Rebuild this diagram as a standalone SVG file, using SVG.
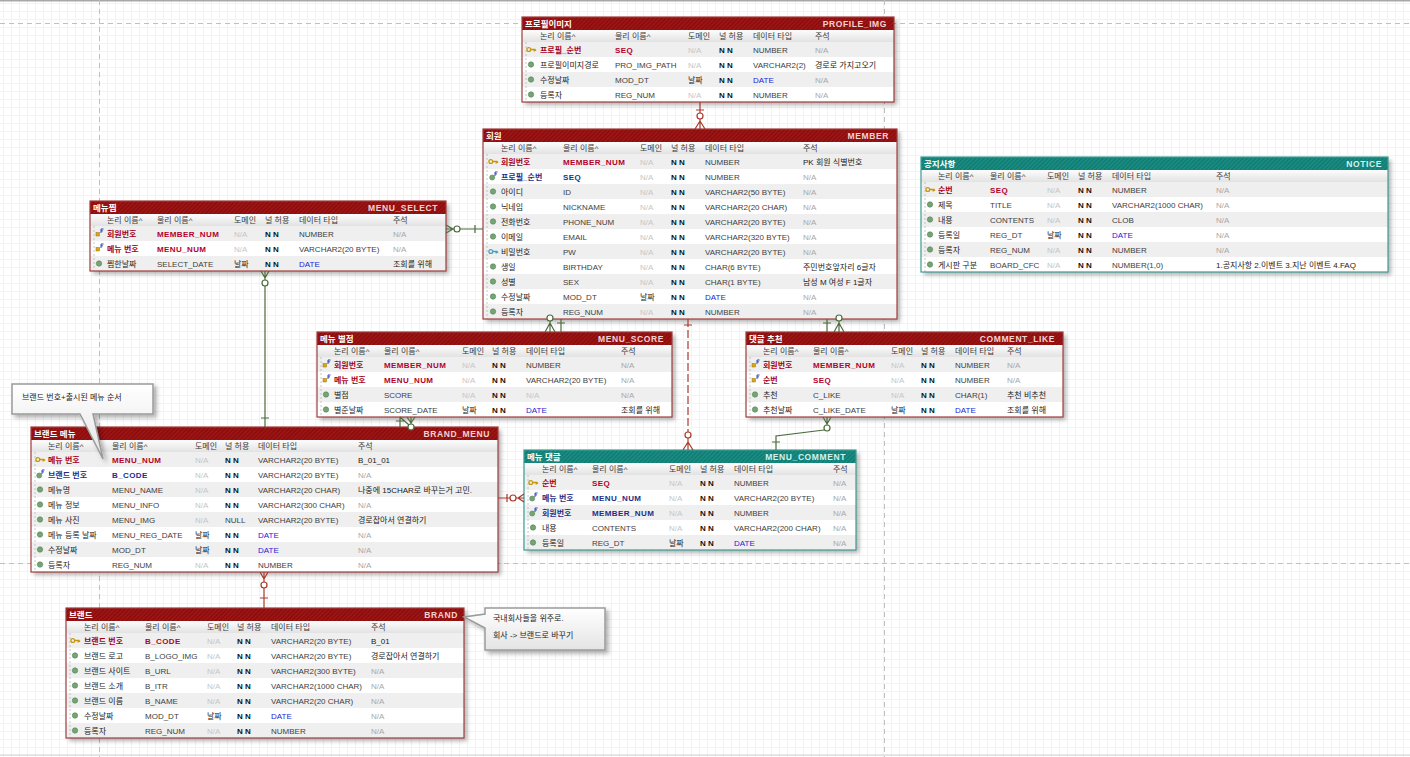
<svg xmlns="http://www.w3.org/2000/svg" width="1410" height="757" viewBox="0 0 1410 757">
<defs>
<style>
text{font-family:"Liberation Sans","Noto Sans CJK KR",sans-serif;font-size:8px;fill:#404040}
.tl{fill:#fff;font-weight:bold;font-size:8.5px}
.tr{fill:#f3d2d2;font-weight:bold;font-size:8.5px;letter-spacing:0.6px;text-anchor:end}
.tt{fill:#d4f1ed;font-weight:bold;font-size:8.5px;letter-spacing:0.6px;text-anchor:end}
.h{fill:#3a3a3a}
.pk{fill:#a3001b;font-weight:bold}
.pp{fill:#b3002b;font-weight:bold;letter-spacing:0.4px}
.fk{fill:#1f2d88;font-weight:bold}
.fp{fill:#1f2d88;font-weight:bold;letter-spacing:0.4px}
.na{fill:#c6c6c6}
.nc{fill:#a8a8a8}
.nn{fill:#111;font-weight:bold}
.d{fill:#2424d8}
.k{fill:#222}
.box{fill:#fff;filter:url(#sh)}
.bdr{fill:none;stroke:#a03c3c;stroke-width:1.2}
.bdt{fill:none;stroke:#3f9d94;stroke-width:1.2}
.alt{fill:#efefef}
.vl{stroke:#b8b8b8;stroke-width:0.8;stroke-dasharray:2 2}
.g{stroke:#4b6b3b;stroke-width:1.2;fill:none}
.r{stroke:#a83a2a;stroke-width:1.2;fill:none}
.rd{stroke:#a83a2a;stroke-width:1.2;fill:none;stroke-dasharray:8 3}
.gc{stroke:#4b6b3b;stroke-width:1.2;fill:#fff}
.rc{stroke:#a83a2a;stroke-width:1.2;fill:#fff}
.pb{stroke:#c0c0c0;stroke-width:1;stroke-dasharray:5 4;fill:none}
.note{fill:url(#ng);stroke:#9a9a9a;stroke-width:1.5;filter:url(#sh)}
.nt{fill:#222}
</style>
<filter id="sh" x="-5%" y="-5%" width="115%" height="125%"><feDropShadow dx="3" dy="3" stdDeviation="2" flood-color="#000" flood-opacity="0.3"/></filter>
<pattern id="grid" width="8" height="8" patternUnits="userSpaceOnUse" x="3" y="3"><path d="M0.5 0V8M0 0.5H8" stroke="#f3f3f3" stroke-width="1" fill="none"/></pattern>
<pattern id="hr" width="3" height="3" patternUnits="userSpaceOnUse" patternTransform="rotate(45)"><rect width="3" height="3" fill="#9e1616"/><rect width="1.2" height="3" fill="#870a0a"/></pattern>
<pattern id="ht" width="3" height="3" patternUnits="userSpaceOnUse" patternTransform="rotate(45)"><rect width="3" height="3" fill="#1a8d83"/><rect width="1.2" height="3" fill="#0f786f"/></pattern>
<linearGradient id="hg" x1="0" y1="0" x2="0" y2="1"><stop offset="0" stop-color="#fdfdfd"/><stop offset="1" stop-color="#e2e2e2"/></linearGradient>
<linearGradient id="ng" x1="0" y1="0" x2="0" y2="1"><stop offset="0" stop-color="#ffffff"/><stop offset="1" stop-color="#e4e4e4"/></linearGradient>
<g id="ipk"><circle cx="-2.2" cy="0" r="1.9" fill="none" stroke="#c8960c" stroke-width="1.3"/><path d="M-0.4 0H4.5M3.2 0V2M4.5 0V1.6" stroke="#c8960c" stroke-width="1.3" fill="none"/></g>
<g id="iak"><circle cx="-2.2" cy="0" r="1.9" fill="none" stroke="#4a9fc0" stroke-width="1.3"/><path d="M-0.4 0H4.5M3.2 0V2M4.5 0V1.6" stroke="#4a9fc0" stroke-width="1.3" fill="none"/></g>
<g id="iat"><circle r="2.7" fill="#74a574" stroke="#557f55" stroke-width="0.6"/></g>
<g id="ifk"><circle cx="-0.8" cy="1" r="2.5" fill="#74a574" stroke="#557f55" stroke-width="0.6"/><path d="M2 -4.5V-0.5M2 -4.5H4.6M2 -2.6H4" stroke="#2030b0" stroke-width="0.9" fill="none"/></g>
<g id="ipf"><rect x="-3" y="-1" width="3.5" height="3.5" fill="#d8a818" stroke="#9a7408" stroke-width="0.5"/><path d="M2 -4.5V-0.5M2 -4.5H4.6M2 -2.6H4" stroke="#2030b0" stroke-width="0.9" fill="none"/></g>
</defs>

<rect width="1410" height="757" fill="#fff"/>
<rect width="1410" height="757" fill="url(#grid)"/>
<g id="page-breaks">
<line x1="0" y1="0.75" x2="1410" y2="0.75" stroke="#a8a8a8" stroke-width="1.5"/>
<line class="pb" x1="0" y1="23.5" x2="1410" y2="23.5"/>
<line class="pb" x1="0" y1="563.5" x2="1410" y2="563.5"/>
<line class="pb" x1="99.5" y1="0" x2="99.5" y2="757"/>
<line class="pb" x1="884.5" y1="0" x2="884.5" y2="757"/>
<line x1="0" y1="755" x2="1410" y2="755" stroke="#d0d0d0" stroke-width="1"/>
</g>

<!-- PROFILE_IMG -->
<g id="profile_img" transform="translate(522,17)">
<rect class="box" width="372" height="85"/>
<rect width="372" height="13" fill="url(#hr)"/>
<rect y="13" width="372" height="12" fill="url(#hg)"/>
<rect class="alt" y="25" width="372" height="15"/><rect class="alt" y="55" width="372" height="15"/>
<line class="vl" x1="4" y1="25" x2="4" y2="85"/>
<rect class="bdr" width="372" height="85"/>
<text class="tl" x="3" y="10">프로필이미지</text><text class="tr" x="365" y="10">PROFILE_IMG</text>
<text class="h" x="18" y="22">논리 이름^</text><text class="h" x="93" y="22">물리 이름^</text><text class="h" x="166" y="22">도메인</text><text class="h" x="197" y="22">널 허용</text><text class="h" x="231" y="22">데이터 타입</text><text class="h" x="293" y="22">주석</text>
<use href="#ipk" x="9" y="32.5"/><text class="pk" x="18" y="36">프로필_순번</text><text class="pp" x="93" y="36">SEQ</text><text class="na" x="166" y="36">N/A</text><text class="nn" x="197" y="36">N N</text><text x="231" y="36">NUMBER</text><text class="nc" x="293" y="36">N/A</text>
<use href="#iat" x="9" y="47.5"/><text class="k" x="18" y="51">프로필이미지경로</text><text x="93" y="51">PRO_IMG_PATH</text><text class="na" x="166" y="51">N/A</text><text class="nn" x="197" y="51">N N</text><text x="231" y="51">VARCHAR2(2)</text><text class="k" x="293" y="51">경로로 가지고오기</text>
<use href="#iat" x="9" y="62.5"/><text class="k" x="18" y="66">수정날짜</text><text x="93" y="66">MOD_DT</text><text class="k" x="166" y="66">날짜</text><text class="nn" x="197" y="66">N N</text><text class="d" x="231" y="66">DATE</text><text class="nc" x="293" y="66">N/A</text>
<use href="#iat" x="9" y="77.5"/><text class="k" x="18" y="81">등록자</text><text x="93" y="81">REG_NUM</text><text class="na" x="166" y="81">N/A</text><text class="nn" x="197" y="81">N N</text><text x="231" y="81">NUMBER</text><text class="nc" x="293" y="81">N/A</text>
</g>

<!-- MEMBER -->
<g id="member" transform="translate(483,129)">
<rect class="box" width="414" height="190"/>
<rect width="414" height="13" fill="url(#hr)"/>
<rect y="13" width="414" height="12" fill="url(#hg)"/>
<rect class="alt" y="25" width="414" height="15"/><rect class="alt" y="55" width="414" height="15"/><rect class="alt" y="85" width="414" height="15"/><rect class="alt" y="115" width="414" height="15"/><rect class="alt" y="145" width="414" height="15"/><rect class="alt" y="175" width="414" height="15"/>
<line class="vl" x1="4" y1="25" x2="4" y2="190"/>
<rect class="bdr" width="414" height="190"/>
<text class="tl" x="3" y="10">회원</text><text class="tr" x="406" y="10">MEMBER</text>
<text class="h" x="18" y="22">논리 이름^</text><text class="h" x="80" y="22">물리 이름^</text><text class="h" x="157" y="22">도메인</text><text class="h" x="188" y="22">널 허용</text><text class="h" x="222" y="22">데이터 타입</text><text class="h" x="320" y="22">주석</text>
<use href="#ipk" x="10" y="32.5"/><text class="pk" x="18" y="36">회원번호</text><text class="pp" x="80" y="36">MEMBER_NUM</text><text class="na" x="157" y="36">N/A</text><text class="nn" x="188" y="36">N N</text><text x="222" y="36">NUMBER</text><text class="k" x="320" y="36">PK 회원 식별번호</text>
<use href="#ifk" x="10" y="47.5"/><text class="fk" x="18" y="51">프로필_순번</text><text class="fp" x="80" y="51">SEQ</text><text class="na" x="157" y="51">N/A</text><text class="nn" x="188" y="51">N N</text><text x="222" y="51">NUMBER</text><text class="nc" x="320" y="51">N/A</text>
<use href="#iat" x="10" y="62.5"/><text class="k" x="18" y="66">아이디</text><text x="80" y="66">ID</text><text class="na" x="157" y="66">N/A</text><text class="nn" x="188" y="66">N N</text><text x="222" y="66">VARCHAR2(50 BYTE)</text><text class="nc" x="320" y="66">N/A</text>
<use href="#iat" x="10" y="77.5"/><text class="k" x="18" y="81">닉네임</text><text x="80" y="81">NICKNAME</text><text class="na" x="157" y="81">N/A</text><text class="nn" x="188" y="81">N N</text><text x="222" y="81">VARCHAR2(20 CHAR)</text><text class="nc" x="320" y="81">N/A</text>
<use href="#iat" x="10" y="92.5"/><text class="k" x="18" y="96">전화번호</text><text x="80" y="96">PHONE_NUM</text><text class="na" x="157" y="96">N/A</text><text class="nn" x="188" y="96">N N</text><text x="222" y="96">VARCHAR2(20 BYTE)</text><text class="nc" x="320" y="96">N/A</text>
<use href="#iat" x="10" y="107.5"/><text class="k" x="18" y="111">이메일</text><text x="80" y="111">EMAIL</text><text class="na" x="157" y="111">N/A</text><text class="nn" x="188" y="111">N N</text><text x="222" y="111">VARCHAR2(320 BYTE)</text><text class="nc" x="320" y="111">N/A</text>
<use href="#iak" x="10" y="122.5"/><text class="k" x="18" y="126">비밀번호</text><text x="80" y="126">PW</text><text class="na" x="157" y="126">N/A</text><text class="nn" x="188" y="126">N N</text><text x="222" y="126">VARCHAR2(20 BYTE)</text><text class="nc" x="320" y="126">N/A</text>
<use href="#iat" x="10" y="137.5"/><text class="k" x="18" y="141">생일</text><text x="80" y="141">BIRTHDAY</text><text class="na" x="157" y="141">N/A</text><text class="nn" x="188" y="141">N N</text><text x="222" y="141">CHAR(6 BYTE)</text><text class="k" x="320" y="141">주민번호앞자리 6글자</text>
<use href="#iat" x="10" y="152.5"/><text class="k" x="18" y="156">성별</text><text x="80" y="156">SEX</text><text class="na" x="157" y="156">N/A</text><text class="nn" x="188" y="156">N N</text><text x="222" y="156">CHAR(1 BYTE)</text><text class="k" x="320" y="156">남성 M 여성 F 1글자</text>
<use href="#iat" x="10" y="167.5"/><text class="k" x="18" y="171">수정날짜</text><text x="80" y="171">MOD_DT</text><text class="k" x="157" y="171">날짜</text><text class="nn" x="188" y="171">N N</text><text class="d" x="222" y="171">DATE</text><text class="nc" x="320" y="171">N/A</text>
<use href="#iat" x="10" y="182.5"/><text class="k" x="18" y="186">등록자</text><text x="80" y="186">REG_NUM</text><text class="na" x="157" y="186">N/A</text><text class="nn" x="188" y="186">N N</text><text x="222" y="186">NUMBER</text><text class="nc" x="320" y="186">N/A</text>
</g>

<!-- NOTICE -->
<g id="notice" transform="translate(921,157)">
<rect class="box" width="467" height="115"/>
<rect width="467" height="13" fill="url(#ht)"/>
<rect y="13" width="467" height="12" fill="url(#hg)"/>
<rect class="alt" y="25" width="467" height="15"/><rect class="alt" y="55" width="467" height="15"/><rect class="alt" y="85" width="467" height="15"/>
<line class="vl" x1="4" y1="25" x2="4" y2="115"/>
<rect class="bdt" width="467" height="115"/>
<text class="tl" x="3" y="10">공지사항</text><text class="tt" x="461" y="10">NOTICE</text>
<text class="h" x="17" y="22">논리 이름^</text><text class="h" x="69" y="22">물리 이름^</text><text class="h" x="126" y="22">도메인</text><text class="h" x="157" y="22">널 허용</text><text class="h" x="191" y="22">데이터 타입</text><text class="h" x="295" y="22">주석</text>
<use href="#ipk" x="9" y="32.5"/><text class="pk" x="17" y="36">순번</text><text class="pp" x="69" y="36">SEQ</text><text class="na" x="126" y="36">N/A</text><text class="nn" x="157" y="36">N N</text><text x="191" y="36">NUMBER</text><text class="nc" x="295" y="36">N/A</text>
<use href="#iat" x="9" y="47.5"/><text class="k" x="17" y="51">제목</text><text x="69" y="51">TITLE</text><text class="na" x="126" y="51">N/A</text><text class="nn" x="157" y="51">N N</text><text x="191" y="51">VARCHAR2(1000 CHAR)</text><text class="nc" x="295" y="51">N/A</text>
<use href="#iat" x="9" y="62.5"/><text class="k" x="17" y="66">내용</text><text x="69" y="66">CONTENTS</text><text class="na" x="126" y="66">N/A</text><text class="nn" x="157" y="66">N N</text><text x="191" y="66">CLOB</text><text class="nc" x="295" y="66">N/A</text>
<use href="#iat" x="9" y="77.5"/><text class="k" x="17" y="81">등록일</text><text x="69" y="81">REG_DT</text><text class="k" x="126" y="81">날짜</text><text class="nn" x="157" y="81">N N</text><text class="d" x="191" y="81">DATE</text><text class="nc" x="295" y="81">N/A</text>
<use href="#iat" x="9" y="92.5"/><text class="k" x="17" y="96">등록자</text><text x="69" y="96">REG_NUM</text><text class="na" x="126" y="96">N/A</text><text class="nn" x="157" y="96">N N</text><text x="191" y="96">NUMBER</text><text class="nc" x="295" y="96">N/A</text>
<use href="#iat" x="9" y="107.5"/><text class="k" x="17" y="111">게시판 구분</text><text x="69" y="111">BOARD_CFC</text><text class="na" x="126" y="111">N/A</text><text class="nn" x="157" y="111">N N</text><text x="191" y="111">NUMBER(1,0)</text><text class="k" x="295" y="111">1.공지사항 2.이벤트 3.지난 이벤트 4.FAQ</text>
</g>

<!-- MENU_SELECT -->
<g id="menu_select" transform="translate(90,201)">
<rect class="box" width="356" height="70"/>
<rect width="356" height="13" fill="url(#hr)"/>
<rect y="13" width="356" height="12" fill="url(#hg)"/>
<rect class="alt" y="25" width="356" height="15"/><rect class="alt" y="55" width="356" height="15"/>
<line class="vl" x1="4" y1="25" x2="4" y2="70"/>
<rect class="bdr" width="356" height="70"/>
<text class="tl" x="3" y="10">메뉴찜</text><text class="tr" x="348" y="10">MENU_SELECT</text>
<text class="h" x="17" y="22">논리 이름^</text><text class="h" x="67" y="22">물리 이름^</text><text class="h" x="144" y="22">도메인</text><text class="h" x="175" y="22">널 허용</text><text class="h" x="209" y="22">데이터 타입</text><text class="h" x="303" y="22">주석</text>
<use href="#ipf" x="9" y="32.5"/><text class="pk" x="17" y="36">회원번호</text><text class="pp" x="67" y="36">MEMBER_NUM</text><text class="na" x="144" y="36">N/A</text><text class="nn" x="175" y="36">N N</text><text x="209" y="36">NUMBER</text><text class="nc" x="303" y="36">N/A</text>
<use href="#ipf" x="9" y="47.5"/><text class="pk" x="17" y="51">메뉴 번호</text><text class="pp" x="67" y="51">MENU_NUM</text><text class="na" x="144" y="51">N/A</text><text class="nn" x="175" y="51">N N</text><text x="209" y="51">VARCHAR2(20 BYTE)</text><text class="nc" x="303" y="51">N/A</text>
<use href="#iat" x="9" y="62.5"/><text class="k" x="17" y="66">찜한날짜</text><text x="67" y="66">SELECT_DATE</text><text class="k" x="144" y="66">날짜</text><text class="nn" x="175" y="66">N N</text><text class="d" x="209" y="66">DATE</text><text class="k" x="303" y="66">조회를 위해</text>
</g>

<!-- MENU_SCORE -->
<g id="menu_score" transform="translate(317,332)">
<rect class="box" width="355" height="85"/>
<rect width="355" height="13" fill="url(#hr)"/>
<rect y="13" width="355" height="12" fill="url(#hg)"/>
<rect class="alt" y="25" width="355" height="15"/><rect class="alt" y="55" width="355" height="15"/>
<line class="vl" x1="4" y1="25" x2="4" y2="85"/>
<rect class="bdr" width="355" height="85"/>
<text class="tl" x="3" y="10">메뉴 별점</text><text class="tr" x="347" y="10">MENU_SCORE</text>
<text class="h" x="17" y="22">논리 이름^</text><text class="h" x="67" y="22">물리 이름^</text><text class="h" x="145" y="22">도메인</text><text class="h" x="175" y="22">널 허용</text><text class="h" x="209" y="22">데이터 타입</text><text class="h" x="304" y="22">주석</text>
<use href="#ipf" x="9" y="32.5"/><text class="pk" x="17" y="36">회원번호</text><text class="pp" x="67" y="36">MEMBER_NUM</text><text class="na" x="145" y="36">N/A</text><text class="nn" x="175" y="36">N N</text><text x="209" y="36">NUMBER</text><text class="nc" x="304" y="36">N/A</text>
<use href="#ipf" x="9" y="47.5"/><text class="pk" x="17" y="51">메뉴 번호</text><text class="pp" x="67" y="51">MENU_NUM</text><text class="na" x="145" y="51">N/A</text><text class="nn" x="175" y="51">N N</text><text x="209" y="51">VARCHAR2(20 BYTE)</text><text class="nc" x="304" y="51">N/A</text>
<use href="#iat" x="9" y="62.5"/><text class="k" x="17" y="66">별점</text><text x="67" y="66">SCORE</text><text class="na" x="145" y="66">N/A</text><text class="nn" x="175" y="66">N N</text><text class="na" x="209" y="66">N/A</text><text class="nc" x="304" y="66">N/A</text>
<use href="#iat" x="9" y="77.5"/><text class="k" x="17" y="81">별준날짜</text><text x="67" y="81">SCORE_DATE</text><text class="k" x="145" y="81">날짜</text><text class="nn" x="175" y="81">N N</text><text class="d" x="209" y="81">DATE</text><text class="k" x="304" y="81">조회를 위해</text>
</g>

<!-- COMMENT_LIKE -->
<g id="comment_like" transform="translate(746,332)">
<rect class="box" width="317" height="85"/>
<rect width="317" height="13" fill="url(#hr)"/>
<rect y="13" width="317" height="12" fill="url(#hg)"/>
<rect class="alt" y="25" width="317" height="15"/><rect class="alt" y="55" width="317" height="15"/>
<line class="vl" x1="4" y1="25" x2="4" y2="85"/>
<rect class="bdr" width="317" height="85"/>
<text class="tl" x="3" y="10">댓글 추천</text><text class="tr" x="309" y="10">COMMENT_LIKE</text>
<text class="h" x="17" y="22">논리 이름^</text><text class="h" x="67" y="22">물리 이름^</text><text class="h" x="145" y="22">도메인</text><text class="h" x="175" y="22">널 허용</text><text class="h" x="209" y="22">데이터 타입</text><text class="h" x="261" y="22">주석</text>
<use href="#ipf" x="9" y="32.5"/><text class="pk" x="17" y="36">회원번호</text><text class="pp" x="67" y="36">MEMBER_NUM</text><text class="na" x="145" y="36">N/A</text><text class="nn" x="175" y="36">N N</text><text x="209" y="36">NUMBER</text><text class="nc" x="261" y="36">N/A</text>
<use href="#ipf" x="9" y="47.5"/><text class="pk" x="17" y="51">순번</text><text class="pp" x="67" y="51">SEQ</text><text class="na" x="145" y="51">N/A</text><text class="nn" x="175" y="51">N N</text><text x="209" y="51">NUMBER</text><text class="nc" x="261" y="51">N/A</text>
<use href="#iat" x="9" y="62.5"/><text class="k" x="17" y="66">추천</text><text x="67" y="66">C_LIKE</text><text class="na" x="145" y="66">N/A</text><text class="nn" x="175" y="66">N N</text><text x="209" y="66">CHAR(1)</text><text class="k" x="261" y="66">추천 비추천</text>
<use href="#iat" x="9" y="77.5"/><text class="k" x="17" y="81">추천날짜</text><text x="67" y="81">C_LIKE_DATE</text><text class="k" x="145" y="81">날짜</text><text class="nn" x="175" y="81">N N</text><text class="d" x="209" y="81">DATE</text><text class="k" x="261" y="81">조회를 위해</text>
</g>

<!-- BRAND_MENU -->
<g id="brand_menu" transform="translate(31,427)">
<rect class="box" width="467" height="145"/>
<rect width="467" height="13" fill="url(#hr)"/>
<rect y="13" width="467" height="12" fill="url(#hg)"/>
<rect class="alt" y="25" width="467" height="15"/><rect class="alt" y="55" width="467" height="15"/><rect class="alt" y="85" width="467" height="15"/><rect class="alt" y="115" width="467" height="15"/>
<line class="vl" x1="4" y1="25" x2="4" y2="145"/>
<rect class="bdr" width="467" height="145"/>
<text class="tl" x="3" y="10">브랜드 메뉴</text><text class="tr" x="459" y="10">BRAND_MENU</text>
<text class="h" x="17" y="22">논리 이름^</text><text class="h" x="81" y="22">물리 이름^</text><text class="h" x="164" y="22">도메인</text><text class="h" x="194" y="22">널 허용</text><text class="h" x="227" y="22">데이터 타입</text><text class="h" x="327" y="22">주석</text>
<use href="#ipk" x="9" y="32.5"/><text class="pk" x="17" y="36">메뉴 번호</text><text class="pp" x="81" y="36">MENU_NUM</text><text class="na" x="164" y="36">N/A</text><text class="nn" x="194" y="36">N N</text><text x="227" y="36">VARCHAR2(20 BYTE)</text><text class="k" x="327" y="36">B_01_01</text>
<use href="#ifk" x="9" y="47.5"/><text class="fk" x="17" y="51">브랜드 번호</text><text class="fp" x="81" y="51">B_CODE</text><text class="na" x="164" y="51">N/A</text><text class="nn" x="194" y="51">N N</text><text x="227" y="51">VARCHAR2(20 BYTE)</text><text class="nc" x="327" y="51">N/A</text>
<use href="#iat" x="9" y="62.5"/><text class="k" x="17" y="66">메뉴명</text><text x="81" y="66">MENU_NAME</text><text class="na" x="164" y="66">N/A</text><text class="nn" x="194" y="66">N N</text><text x="227" y="66">VARCHAR2(20 CHAR)</text><text class="k" x="327" y="66">나중에 15CHAR로 바꾸는거 고민.</text>
<use href="#iat" x="9" y="77.5"/><text class="k" x="17" y="81">메뉴 정보</text><text x="81" y="81">MENU_INFO</text><text class="na" x="164" y="81">N/A</text><text class="nn" x="194" y="81">N N</text><text x="227" y="81">VARCHAR2(300 CHAR)</text><text class="nc" x="327" y="81">N/A</text>
<use href="#iat" x="9" y="92.5"/><text class="k" x="17" y="96">메뉴 사진</text><text x="81" y="96">MENU_IMG</text><text class="na" x="164" y="96">N/A</text><text x="194" y="96">NULL</text><text x="227" y="96">VARCHAR2(20 BYTE)</text><text class="k" x="327" y="96">경로잡아서 연결하기</text>
<use href="#iat" x="9" y="107.5"/><text class="k" x="17" y="111">메뉴 등록 날짜</text><text x="81" y="111">MENU_REG_DATE</text><text class="k" x="164" y="111">날짜</text><text class="nn" x="194" y="111">N N</text><text class="d" x="227" y="111">DATE</text><text class="nc" x="327" y="111">N/A</text>
<use href="#iat" x="9" y="122.5"/><text class="k" x="17" y="126">수정날짜</text><text x="81" y="126">MOD_DT</text><text class="k" x="164" y="126">날짜</text><text class="nn" x="194" y="126">N N</text><text class="d" x="227" y="126">DATE</text><text class="nc" x="327" y="126">N/A</text>
<use href="#iat" x="9" y="137.5"/><text class="k" x="17" y="141">등록자</text><text x="81" y="141">REG_NUM</text><text class="na" x="164" y="141">N/A</text><text class="nn" x="194" y="141">N N</text><text x="227" y="141">NUMBER</text><text class="nc" x="327" y="141">N/A</text>
</g>

<!-- MENU_COMMENT -->
<g id="menu_comment" transform="translate(524,450)">
<rect class="box" width="332" height="100"/>
<rect width="332" height="13" fill="url(#ht)"/>
<rect y="13" width="332" height="12" fill="url(#hg)"/>
<rect class="alt" y="25" width="332" height="15"/><rect class="alt" y="55" width="332" height="15"/><rect class="alt" y="85" width="332" height="15"/>
<line class="vl" x1="4" y1="25" x2="4" y2="100"/>
<rect class="bdt" width="332" height="100"/>
<text class="tl" x="3" y="10">메뉴 댓글</text><text class="tt" x="322" y="10">MENU_COMMENT</text>
<text class="h" x="18" y="22">논리 이름^</text><text class="h" x="68" y="22">물리 이름^</text><text class="h" x="145" y="22">도메인</text><text class="h" x="176" y="22">널 허용</text><text class="h" x="210" y="22">데이터 타입</text><text class="h" x="309" y="22">주석</text>
<use href="#ipk" x="9" y="32.5"/><text class="pk" x="18" y="36">순번</text><text class="pp" x="68" y="36">SEQ</text><text class="na" x="145" y="36">N/A</text><text class="nn" x="176" y="36">N N</text><text x="210" y="36">NUMBER</text><text class="nc" x="309" y="36">N/A</text>
<use href="#ifk" x="9" y="47.5"/><text class="fk" x="18" y="51">메뉴 번호</text><text class="fp" x="68" y="51">MENU_NUM</text><text class="na" x="145" y="51">N/A</text><text class="nn" x="176" y="51">N N</text><text x="210" y="51">VARCHAR2(20 BYTE)</text><text class="nc" x="309" y="51">N/A</text>
<use href="#ifk" x="9" y="62.5"/><text class="fk" x="18" y="66">회원번호</text><text class="fp" x="68" y="66">MEMBER_NUM</text><text class="na" x="145" y="66">N/A</text><text class="nn" x="176" y="66">N N</text><text x="210" y="66">NUMBER</text><text class="nc" x="309" y="66">N/A</text>
<use href="#iat" x="9" y="77.5"/><text class="k" x="18" y="81">내용</text><text x="68" y="81">CONTENTS</text><text class="na" x="145" y="81">N/A</text><text class="nn" x="176" y="81">N N</text><text x="210" y="81">VARCHAR2(200 CHAR)</text><text class="nc" x="309" y="81">N/A</text>
<use href="#iat" x="9" y="92.5"/><text class="k" x="18" y="96">등록일</text><text x="68" y="96">REG_DT</text><text class="k" x="145" y="96">날짜</text><text class="nn" x="176" y="96">N N</text><text class="d" x="210" y="96">DATE</text><text class="nc" x="309" y="96">N/A</text>
</g>

<!-- BRAND -->
<g id="brand" transform="translate(66,608)">
<rect class="box" width="398" height="130"/>
<rect width="398" height="13" fill="url(#hr)"/>
<rect y="13" width="398" height="12" fill="url(#hg)"/>
<rect class="alt" y="25" width="398" height="15"/><rect class="alt" y="55" width="398" height="15"/><rect class="alt" y="85" width="398" height="15"/><rect class="alt" y="115" width="398" height="15"/>
<line class="vl" x1="4" y1="25" x2="4" y2="130"/>
<rect class="bdr" width="398" height="130"/>
<text class="tl" x="3" y="10">브랜드</text><text class="tr" x="392" y="10">BRAND</text>
<text class="h" x="18" y="22">논리 이름^</text><text class="h" x="79" y="22">물리 이름^</text><text class="h" x="141" y="22">도메인</text><text class="h" x="171" y="22">널 허용</text><text class="h" x="205" y="22">데이터 타입</text><text class="h" x="305" y="22">주석</text>
<use href="#ipk" x="9" y="32.5"/><text class="pk" x="18" y="36">브랜드 번호</text><text class="pp" x="79" y="36">B_CODE</text><text class="na" x="141" y="36">N/A</text><text class="nn" x="171" y="36">N N</text><text x="205" y="36">VARCHAR2(20 BYTE)</text><text class="k" x="305" y="36">B_01</text>
<use href="#iat" x="9" y="47.5"/><text class="k" x="18" y="51">브랜드 로고</text><text x="79" y="51">B_LOGO_IMG</text><text class="na" x="141" y="51">N/A</text><text class="nn" x="171" y="51">N N</text><text x="205" y="51">VARCHAR2(20 BYTE)</text><text class="k" x="305" y="51">경로잡아서 연결하기</text>
<use href="#iat" x="9" y="62.5"/><text class="k" x="18" y="66">브랜드 사이트</text><text x="79" y="66">B_URL</text><text class="na" x="141" y="66">N/A</text><text class="nn" x="171" y="66">N N</text><text x="205" y="66">VARCHAR2(300 BYTE)</text><text class="nc" x="305" y="66">N/A</text>
<use href="#iat" x="9" y="77.5"/><text class="k" x="18" y="81">브랜드 소개</text><text x="79" y="81">B_ITR</text><text class="na" x="141" y="81">N/A</text><text class="nn" x="171" y="81">N N</text><text x="205" y="81">VARCHAR2(1000 CHAR)</text><text class="nc" x="305" y="81">N/A</text>
<use href="#iat" x="9" y="92.5"/><text class="k" x="18" y="96">브랜드 이름</text><text x="79" y="96">B_NAME</text><text class="na" x="141" y="96">N/A</text><text class="nn" x="171" y="96">N N</text><text x="205" y="96">VARCHAR2(20 CHAR)</text><text class="nc" x="305" y="96">N/A</text>
<use href="#iat" x="9" y="107.5"/><text class="k" x="18" y="111">수정날짜</text><text x="79" y="111">MOD_DT</text><text class="k" x="141" y="111">날짜</text><text class="nn" x="171" y="111">N N</text><text class="d" x="205" y="111">DATE</text><text class="nc" x="305" y="111">N/A</text>
<use href="#iat" x="9" y="122.5"/><text class="k" x="18" y="126">등록자</text><text x="79" y="126">REG_NUM</text><text class="na" x="141" y="126">N/A</text><text class="nn" x="171" y="126">N N</text><text x="205" y="126">NUMBER</text><text class="nc" x="305" y="126">N/A</text>
</g>

<!-- Notes -->
<g id="note-brand-menu">
<path class="note" d="M12 384H153V414H93L103 459L80 414H12Z"/>
<text class="nt" x="22" y="400">브랜드 번호+출시된 메뉴 순서</text>
</g>
<g id="note-brand">
<path class="note" d="M485 608H605V650H485V628L464 617L485 614Z"/>
<text class="nt" x="493" y="621">국내회사들을 위주로.</text>
<text class="nt" x="493" y="638">회사 -&gt; 브랜드로 바꾸기</text>
</g>

<!-- Connectors -->
<g id="connectors">
<path class="r" d="M700 102V129M696 110H704M700 121L695 129M700 121L705 129"/>
<circle class="rc" cx="700" cy="116" r="3"/>
<path class="g" d="M446 229H483M475 225V233M453 229L446 225M453 229L446 233"/>
<circle class="gc" cx="457" cy="229" r="3"/>
<path class="g" d="M265 271V427M261 418H269M265 278L261 271M265 278L269 271"/>
<circle class="gc" cx="265" cy="283" r="3"/>
<path class="g" d="M550 321V332M550 323L545 332M550 323L555 332M561 319V332M557 323H565"/>
<circle class="gc" cx="550" cy="318" r="3"/>
<path class="g" d="M839 321V332M839 323L834 332M839 323L844 332M827 319V332M823 323H831"/>
<circle class="gc" cx="839" cy="318" r="3"/>
<path class="rd" d="M688 319V432"/>
<path class="r" d="M684 325H692M688 438V450M688 442L683 450M688 442L693 450"/>
<circle class="rc" cx="688" cy="435" r="3"/>
<path class="g" d="M827 417V425M827 424L823 417M827 424L831 417M824 430L776 436V450M772 442H780"/>
<circle class="gc" cx="827" cy="428" r="3"/>
<path class="g" d="M411 417V424M411 423L407 417M411 423L415 417M400 417V427M396 421H404M400 417L409 425"/>
<circle class="gc" cx="411" cy="427" r="3"/>
<path class="r" d="M498 498H524M507 494V502M518 498L524 494M518 498L524 502"/>
<circle class="rc" cx="513" cy="498" r="3"/>
<path class="r" d="M264 572V608M260 598H268M264 579L260 572M264 579L268 572"/>
<circle class="rc" cx="264" cy="585" r="3"/>
</g>
</svg>
